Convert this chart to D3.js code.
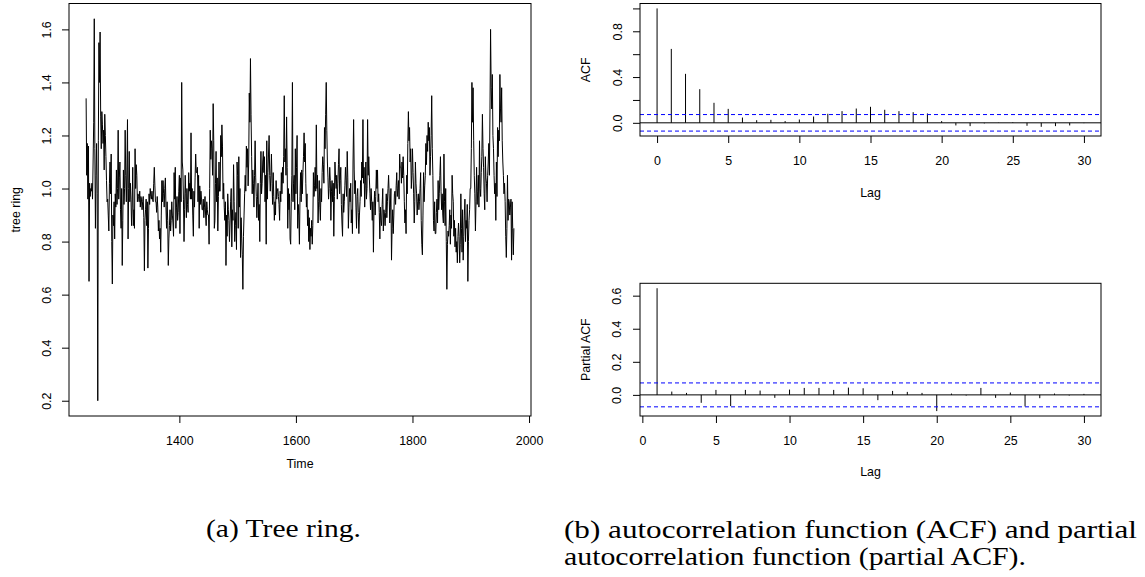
<!DOCTYPE html>
<html>
<head>
<meta charset="utf-8">
<script src="https://cdn.jsdelivr.net/npm/d3@7"></script>
<style>
  html, body { margin: 0; padding: 0; background: #fff; }
  svg { display: block; }
  .axis text { font-family: "Liberation Sans", Arial, sans-serif; font-size: 12.4px; fill: #000; }
  .lbl { font-family: "Liberation Sans", Arial, sans-serif; font-size: 12.4px; fill: #000; }
  .cap { font-family: "Liberation Serif", "Times New Roman", serif; font-size: 25px; fill: #000; }
</style>
</head>
<body>
<script>
// ---------------- data ----------------
const startYear = 1240;
const treeRing = [
1.34,1.05,1.17,0.96,1.16,0.65,1.02,0.97,1.00,0.99,
1.02,0.96,1.10,1.25,1.64,1.15,0.85,1.05,1.17,0.98,
0.20,1.18,1.55,1.40,1.59,1.27,1.15,1.29,1.24,1.17,
1.22,1.07,1.28,1.20,1.12,1.03,0.95,0.96,0.90,0.84,
1.02,1.10,0.98,1.13,0.80,0.64,0.90,0.86,0.95,0.81,
0.98,0.93,1.07,0.94,1.00,1.22,0.96,1.04,1.10,0.92,
0.85,1.00,0.71,0.88,1.07,0.94,1.00,1.22,1.05,0.95,
1.07,1.26,0.81,1.00,1.14,0.95,1.02,0.96,0.86,0.93,
1.08,0.86,0.92,0.85,1.15,1.00,1.09,1.05,0.95,0.98,
0.97,0.95,0.99,0.93,0.97,0.96,0.92,0.95,0.97,0.89,
0.69,0.88,0.92,0.96,0.86,0.95,0.70,0.85,0.98,0.94,
1.00,0.97,0.96,0.99,0.96,0.95,1.02,1.08,1.01,0.95,
0.95,0.91,0.97,0.93,0.84,0.88,0.81,0.85,0.76,0.90,
1.03,0.95,1.03,0.98,0.93,1.00,1.04,0.93,0.85,0.95,
0.88,0.71,0.81,0.86,0.92,0.84,0.88,0.95,0.90,0.87,
0.82,1.06,0.96,1.08,0.85,0.93,0.97,0.88,0.91,0.99,
1.05,0.83,1.04,0.95,1.40,1.10,1.07,0.96,0.80,0.92,
1.05,0.98,0.89,1.00,0.94,0.91,1.06,0.99,1.02,0.96,
1.21,0.96,1.00,0.90,0.82,0.99,0.93,1.04,1.13,1.06,
1.06,1.08,0.95,1.05,0.85,1.01,0.94,0.99,0.96,0.92,
0.92,0.96,0.89,0.93,0.97,0.90,0.86,0.95,0.92,0.90,
0.90,0.79,1.00,1.22,1.11,1.18,1.15,1.05,1.32,1.18,
0.85,0.88,1.02,1.14,0.95,1.04,0.84,0.97,1.10,0.99,
0.99,1.20,1.12,1.24,1.16,0.96,1.02,0.93,0.88,0.95,
0.71,0.90,0.82,0.98,0.92,0.88,0.80,0.87,0.95,1.00,
0.78,0.92,0.88,1.09,0.95,0.80,0.86,0.91,0.77,1.10,
1.05,0.85,1.12,0.93,1.00,0.74,0.89,0.81,0.75,0.62,
0.82,0.90,0.98,1.05,0.99,1.16,1.08,1.15,1.01,1.10,
1.36,1.25,1.49,1.28,1.12,0.98,1.07,1.02,0.93,1.05,
1.18,1.04,0.97,0.89,0.96,1.02,0.88,0.94,0.80,1.02,
1.14,0.98,1.02,1.10,1.14,1.06,1.12,0.95,1.05,0.79,
1.18,0.96,1.06,1.13,1.20,1.05,0.99,1.05,1.13,1.02,
0.94,1.06,0.97,0.88,0.95,0.90,1.03,0.96,0.99,1.00,
0.97,0.94,0.88,0.99,0.95,1.06,0.98,1.08,1.02,1.12,
1.35,1.10,1.15,1.05,1.27,1.08,0.85,1.00,0.92,0.98,
0.81,0.79,0.95,1.05,1.40,0.95,1.02,1.05,0.92,1.15,
0.98,1.08,1.20,0.85,0.94,0.90,0.79,0.97,1.06,0.95,
1.07,0.98,1.06,1.12,1.21,1.10,1.17,1.02,0.93,0.98,
0.86,0.92,0.80,0.89,0.77,0.85,0.82,0.88,0.79,0.86,
1.06,0.97,1.01,1.08,0.99,1.24,1.00,1.05,0.87,0.95,
1.03,0.93,0.88,1.00,0.95,1.06,1.12,1.09,1.02,1.23,
1.15,1.28,1.40,1.22,1.10,1.04,0.96,1.00,1.08,1.03,
0.88,0.99,1.03,0.95,1.02,0.82,0.97,1.10,1.04,1.00,
1.05,0.96,1.02,1.09,1.15,0.98,1.03,1.08,0.94,0.87,
0.82,0.98,0.91,0.95,1.01,1.08,1.03,0.97,1.14,1.04,
0.85,0.93,1.00,0.95,1.02,0.87,0.92,0.83,1.10,1.26,
1.07,0.98,1.03,0.93,0.85,0.97,1.00,0.91,0.83,0.90,
0.95,1.03,0.97,1.10,1.04,1.26,1.02,1.08,0.93,1.01,
1.10,0.96,1.00,1.26,1.05,1.12,1.04,0.98,0.92,1.00,
0.95,0.88,0.95,0.76,0.93,0.99,0.90,0.97,1.07,1.00,
1.07,0.95,0.98,0.91,0.81,0.93,0.88,0.86,0.94,1.00,
0.84,0.92,0.90,0.86,0.91,0.98,0.89,0.95,1.00,1.05,
0.98,0.87,0.93,1.00,0.73,0.85,0.92,0.83,0.90,0.98,
0.99,0.94,1.01,1.06,0.97,1.00,1.03,0.96,1.13,1.08,
1.08,1.02,1.10,1.04,1.12,1.05,0.95,0.87,0.92,0.83,
1.05,0.98,1.17,1.29,1.18,1.23,1.10,1.15,1.00,1.05,
1.15,1.06,0.98,0.87,0.95,1.10,1.02,0.98,0.90,0.95,
0.98,0.92,0.95,1.00,1.06,0.88,0.79,0.75,0.90,1.06,
0.95,1.01,1.05,1.17,1.09,1.20,1.14,1.25,1.18,1.23,
1.05,1.12,1.20,1.35,1.15,1.05,0.88,0.84,0.95,0.83,
0.83,0.91,0.96,0.87,1.03,0.92,0.98,1.05,1.12,0.99,
0.92,0.98,0.90,0.87,1.13,0.95,0.86,1.00,0.80,0.62,
0.79,0.84,0.82,0.86,0.92,0.79,0.90,0.85,1.05,0.98,
0.95,0.82,0.88,0.78,0.85,0.76,0.80,0.72,0.82,0.87,
0.82,0.72,0.79,0.98,0.85,0.76,0.92,0.73,0.82,0.90,
0.96,0.80,0.88,0.85,0.94,0.65,0.80,0.88,0.92,1.00,
1.00,1.15,1.40,1.25,1.38,1.18,1.05,0.98,0.84,0.95,
1.08,0.94,0.99,1.05,0.93,1.18,1.00,0.97,1.06,1.12,
1.28,1.15,1.08,0.98,0.92,1.12,1.04,1.02,0.95,1.05,
1.10,1.17,1.05,1.30,1.60,1.38,1.30,1.43,1.20,1.15,
1.05,0.98,1.02,0.88,1.10,0.97,1.23,1.12,1.22,1.18,
1.43,1.30,1.25,1.38,1.18,1.10,1.05,0.98,1.02,0.95,
0.82,0.74,0.85,1.05,0.88,0.96,0.95,0.90,0.93,0.96,
0.73,0.95,0.85,0.75,0.85
];

const acfLags = [0,1,2,3,4,5,6,7,8,9,10,11,12,13,14,15,16,17,18,19,20,21,22,23,24,25,26,27,28,29,30];
const acfValues = [1.000,0.646,0.428,0.294,0.175,0.122,0.046,0.023,0.026,0.015,0.029,0.055,0.079,0.102,0.125,0.140,
                   0.114,0.102,0.093,0.082,0.015,-0.023,-0.029,-0.005,0.002,0.005,-0.026,-0.035,-0.029,-0.023,-0.003];
const pacfLags = [1,2,3,4,5,6,7,8,9,10,11,12,13,14,15,16,17,18,19,20,21,22,23,24,25,26,27,28,29,30];
const pacfValues = [0.645,0.020,0.012,-0.048,0.030,-0.068,0.030,0.026,-0.018,0.032,0.042,0.042,0.030,0.044,0.040,
                    -0.032,0.024,0.018,0.012,-0.098,0.008,-0.004,0.042,-0.018,0.014,-0.070,-0.020,0.008,-0.004,0.006];
const ciBound = 0.0723;

const timeTicks = [1400,1600,1800,2000];
const ringTicks = [0.2,0.4,0.6,0.8,1.0,1.2,1.4,1.6];
const lagTicks = [0,5,10,15,20,25,30];
const acfTicks = [0.0,0.2,0.4,0.6,0.8,1.0];
const acfLabelled = [0.0,0.4,0.8];
const pacfTicks = [0.0,0.2,0.4,0.6];

const captionA = "(a) Tree ring.";
const captionB1 = "(b) autocorrelation function (ACF) and partial";
const captionB2 = "autocorrelation function (partial ACF).";

// ---------------- drawing ----------------
const W = 1145, H = 577;
const svg = d3.select("body").append("svg").attr("width", W).attr("height", H);
svg.append("rect").attr("width", W).attr("height", H).attr("fill", "#fff");

function ext(lo, hi) { const r = hi - lo; return [lo - 0.04 * r, hi + 0.04 * r]; }

function box(x0, y0, x1, y1) {
  svg.append("rect").attr("x", x0).attr("y", y0).attr("width", x1 - x0).attr("height", y1 - y0)
    .attr("fill", "none").attr("stroke", "#000").attr("stroke-width", 1);
}

function xAxis(scale, ticks, yPos) {
  const g = svg.append("g").attr("class", "axis").attr("transform", `translate(0,${yPos})`)
    .call(d3.axisBottom(scale).tickValues(ticks).tickSize(7).tickPadding(13.2).tickFormat(d3.format("d")));
  g.select(".domain").remove();
  g.selectAll(".tick line").attr("stroke", "#000");
  return g;
}

function yAxis(scale, ticks, xPos, labelled, fmt, gap) {
  const g = svg.append("g").attr("class", "axis").attr("transform", `translate(${xPos},0)`)
    .call(d3.axisLeft(scale).tickValues(ticks).tickSize(7).tickFormat(d => labelled.some(v => Math.abs(v - d) < 1e-9) ? fmt(d) : ""));
  g.select(".domain").remove();
  g.selectAll(".tick line").attr("stroke", "#000");
  g.selectAll(".tick text").attr("x", null).attr("dy", null).attr("y", null)
    .attr("text-anchor", "middle").attr("transform", `translate(${-gap},0) rotate(-90)`);
  return g;
}

function rotLabel(text, x, y) {
  svg.append("text").attr("class", "lbl").attr("text-anchor", "middle")
    .attr("transform", `translate(${x},${y}) rotate(-90)`).text(text);
}
function hLabel(text, x, y) {
  svg.append("text").attr("class", "lbl").attr("text-anchor", "middle").attr("x", x).attr("y", y).text(text);
}

// ---- Panel (a): tree ring series ----
const A = { x0: 69, x1: 531, y0: 3.5, y1: 416 };
const years = treeRing.map((_, i) => startYear + i);
const xA = d3.scaleLinear().domain(ext(years[0], years[years.length - 1])).range([A.x0, A.x1]);
const yA = d3.scaleLinear().domain(ext(d3.min(treeRing), d3.max(treeRing))).range([A.y1, A.y0]);

svg.append("path")
  .attr("d", d3.line().x((d, i) => xA(years[i])).y(d => yA(d))(treeRing))
  .attr("fill", "none").attr("stroke", "#000").attr("stroke-width", 1).attr("stroke-linejoin", "round");
box(A.x0, A.y0, A.x1, A.y1);
xAxis(xA, timeTicks, A.y1);
yAxis(yA, ringTicks, A.x0, ringTicks, d3.format(".1f"), 18);
hLabel("Time", (A.x0 + A.x1) / 2, 468);
rotLabel("tree ring", 20.3, (A.y0 + A.y1) / 2);

// ---- Panel (b) top: ACF ----
const B = { x0: 640, x1: 1101, y0: 3.5, y1: 136 };
const xB = d3.scaleLinear().domain(ext(d3.min(acfLags), d3.max(acfLags))).range([B.x0, B.x1]);
const yB = d3.scaleLinear().domain(ext(Math.min(d3.min(acfValues), -ciBound), Math.max(d3.max(acfValues), ciBound))).range([B.y1, B.y0]);

svg.append("g").selectAll("line").data(acfValues).join("line")
  .attr("x1", (d, i) => xB(acfLags[i])).attr("x2", (d, i) => xB(acfLags[i]))
  .attr("y1", yB(0)).attr("y2", d => yB(d)).attr("stroke", "#000").attr("stroke-width", 1);
svg.append("line").attr("x1", B.x0).attr("x2", B.x1).attr("y1", yB(0)).attr("y2", yB(0)).attr("stroke", "#000");
[ciBound, -ciBound].forEach(c => {
  svg.append("line").attr("x1", B.x0).attr("x2", B.x1).attr("y1", yB(c)).attr("y2", yB(c))
    .attr("stroke", "#0000ff").attr("stroke-width", 1).attr("stroke-dasharray", "4,3");
});
box(B.x0, B.y0, B.x1, B.y1);
xAxis(xB, lagTicks, B.y1);
yAxis(yB, acfTicks, B.x0, acfLabelled, d3.format(".1f"), 18.5);
hLabel("Lag", (B.x0 + B.x1) / 2, 197);
rotLabel("ACF", 590, (B.y0 + B.y1) / 2);

// ---- Panel (b) bottom: PACF ----
const P = { x0: 640, x1: 1101, y0: 283.3, y1: 416 };
const xP = d3.scaleLinear().domain(ext(d3.min(pacfLags), d3.max(pacfLags))).range([P.x0, P.x1]);
const yP = d3.scaleLinear().domain(ext(Math.min(d3.min(pacfValues), -ciBound), Math.max(d3.max(pacfValues), ciBound))).range([P.y1, P.y0]);

svg.append("g").selectAll("line").data(pacfValues).join("line")
  .attr("x1", (d, i) => xP(pacfLags[i])).attr("x2", (d, i) => xP(pacfLags[i]))
  .attr("y1", yP(0)).attr("y2", d => yP(d)).attr("stroke", "#000").attr("stroke-width", 1);
svg.append("line").attr("x1", P.x0).attr("x2", P.x1).attr("y1", yP(0)).attr("y2", yP(0)).attr("stroke", "#000");
[ciBound, -ciBound].forEach(c => {
  svg.append("line").attr("x1", P.x0).attr("x2", P.x1).attr("y1", yP(c)).attr("y2", yP(c))
    .attr("stroke", "#0000ff").attr("stroke-width", 1).attr("stroke-dasharray", "4,3");
});
box(P.x0, P.y0, P.x1, P.y1);
xAxis(xP, lagTicks, P.y1);
yAxis(yP, pacfTicks, P.x0, pacfTicks, d3.format(".1f"), 19.5);
hLabel("Lag", (P.x0 + P.x1) / 2, 475.7);
rotLabel("Partial ACF", 590, (P.y0 + P.y1) / 2);

// ---- captions ----
function caption(text, x, y, len) {
  svg.append("text").attr("class", "cap").attr("x", x).attr("y", y)
    .attr("textLength", len).attr("lengthAdjust", "spacingAndGlyphs").text(text);
}
caption(captionA, 206, 537, 155);
caption(captionB1, 564, 538, 573);
caption(captionB2, 564, 565, 462);
</script>
</body>
</html>
